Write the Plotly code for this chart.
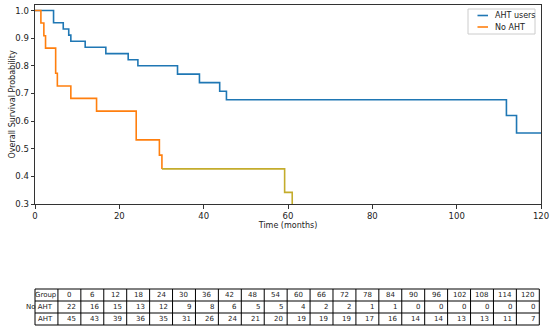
import plotly.graph_objects as go

# Kaplan-Meier step data
aht_time = [0, 4.4, 6.7, 8.0, 8.5, 11.9, 16.8, 22.1, 24.4, 33.8, 39.0, 43.8, 45.4, 111.8, 114.2, 120]
aht_surv = [1.0, 0.956, 0.933, 0.911, 0.889, 0.867, 0.844, 0.822, 0.800, 0.770, 0.739, 0.708, 0.677, 0.620, 0.557, 0.557]

noaht_time_a = [0, 1.4, 2.1, 2.5, 4.9, 5.3, 8.5, 14.6, 24.0, 29.5, 30.1]
noaht_surv_a = [1.0, 0.955, 0.909, 0.864, 0.773, 0.727, 0.682, 0.636, 0.532, 0.477, 0.427]
noaht_time_b = [30.1, 59.2, 61.0]
noaht_surv_b = [0.427, 0.342, 0.0]

# Number-at-risk table
risk_times = ["0", "6", "12", "18", "24", "30", "36", "42", "48", "54", "60",
              "66", "72", "78", "84", "90", "96", "102", "108", "114", "120"]
risk_noaht = [22, 16, 15, 13, 12, 9, 8, 6, 5, 5, 4, 2, 2, 1, 1, 0, 0, 0, 0, 0, 0]
risk_aht = [45, 43, 39, 36, 35, 31, 26, 24, 21, 20, 19, 19, 19, 17, 16, 14, 14, 13, 13, 11, 7]
group_labels = ["No AHT", "AHT"]
legend_labels = ["AHT users", "No AHT"]

BLUE = "#1f77b4"
ORANGE = "#ff7f0e"
OLIVE = "#c4ac2c"
FONT = "DejaVu Sans"
TXT = "#222222"

W, H = 550, 333
ML, MR, MT, MB = 35, 9, 5, 129
PW = W - ML - MR
PH = H - MT - MB


def px_x(p):
    return (p - ML) / PW


def px_y(p):
    return (H - MB - p) / PH


fig = go.Figure()
fig.add_trace(go.Scatter(x=aht_time, y=aht_surv, mode="lines",
                         line=dict(shape="hv", color=BLUE, width=1.6), name=legend_labels[0]))
fig.add_trace(go.Scatter(x=noaht_time_a, y=noaht_surv_a, mode="lines",
                         line=dict(shape="hv", color=ORANGE, width=1.6), name=legend_labels[1]))
fig.add_trace(go.Scatter(x=noaht_time_b, y=noaht_surv_b, mode="lines",
                         line=dict(shape="hv", color=OLIVE, width=1.6), name=legend_labels[1]))

shapes = []
annotations = []

# ---- custom legend (matplotlib style) ----
lx0, lx1, ly0, ly1 = 468, 535, 9, 34
shapes.append(dict(type="rect", xref="paper", yref="paper", x0=px_x(lx0), x1=px_x(lx1),
                   y0=px_y(ly1), y1=px_y(ly0), line=dict(color="#cccccc", width=1),
                   fillcolor="white", layer="above"))
for i, (lab, col) in enumerate(zip(legend_labels, [BLUE, ORANGE])):
    yy = 15.5 + i * 11.5
    shapes.append(dict(type="line", xref="paper", yref="paper", x0=px_x(477.5), x1=px_x(488),
                       y0=px_y(yy), y1=px_y(yy), line=dict(color=col, width=1.6), layer="above"))
    annotations.append(dict(text=lab, xref="paper", yref="paper", x=px_x(492.5), y=px_y(yy),
                            xanchor="left", yanchor="middle", showarrow=False,
                            font=dict(family=FONT, size=8, color=TXT)))

# ---- y axis title ----
annotations.append(dict(text="Overall Survival Probability", xref="paper", yref="paper",
                        x=px_x(12), y=0.5, xanchor="center", yanchor="middle", textangle=-90,
                        showarrow=False, font=dict(family=FONT, size=8, color=TXT)))

# ---- number-at-risk table ----
t_left, t_right = 35, 539.3
row_edges = [289, 301, 313, 325]
ncol = len(risk_times) + 1
cw = (t_right - t_left) / ncol
col_edges = [t_left + i * cw for i in range(ncol + 1)]
for ye in row_edges:
    shapes.append(dict(type="line", xref="paper", yref="paper", x0=px_x(t_left), x1=px_x(t_right),
                       y0=px_y(ye), y1=px_y(ye), line=dict(color="black", width=1)))
for xe in col_edges:
    shapes.append(dict(type="line", xref="paper", yref="paper", x0=px_x(xe), x1=px_x(xe),
                       y0=px_y(row_edges[0]), y1=px_y(row_edges[-1]), line=dict(color="black", width=1)))

header = ["Group"] + risk_times
rows = [[group_labels[0]] + [str(v) for v in risk_noaht],
        [group_labels[1]] + [str(v) for v in risk_aht]]
tf = dict(family=FONT, size=7, color=TXT)
for j, h in enumerate(header):
    cx = (col_edges[j] + col_edges[j + 1]) / 2
    cy = (row_edges[0] + row_edges[1]) / 2
    annotations.append(dict(text=h, xref="paper", yref="paper", x=px_x(cx), y=px_y(cy),
                            xanchor="center", yanchor="middle", showarrow=False, font=tf))
for r, row in enumerate(rows):
    cy = (row_edges[r + 1] + row_edges[r + 2]) / 2
    for j, v in enumerate(row):
        rx = col_edges[j + 1] - 2.5
        annotations.append(dict(text=v, xref="paper", yref="paper", x=px_x(rx), y=px_y(cy),
                                xanchor="right", yanchor="middle", showarrow=False, font=tf))

fig.update_layout(
    width=W, height=H,
    margin=dict(l=ML, r=MR, t=MT, b=MB),
    paper_bgcolor="white", plot_bgcolor="white",
    font=dict(family=FONT, size=8, color=TXT),
    showlegend=False,
    shapes=shapes,
    annotations=annotations,
    xaxis=dict(range=[0, 120], tickvals=[0, 20, 40, 60, 80, 100, 120], automargin=False,
               showline=True, linecolor="#333", linewidth=1, mirror=True,
               ticks="outside", ticklen=3.5, tickcolor="#333", showgrid=False, zeroline=False,
               title=dict(text="Time (months)", font=dict(size=8), standoff=1),
               tickfont=dict(size=8.5)),
    yaxis=dict(range=[0.3, 1.02], tickvals=[0.3, 0.4, 0.5, 0.6, 0.7, 0.8, 0.9, 1.0],
               tickformat=".1f", automargin=False,
               showline=True, linecolor="#333", linewidth=1, mirror=True,
               ticks="outside", ticklen=3.5, tickcolor="#333", showgrid=False, zeroline=False,
               tickfont=dict(size=8.5)),
)

fig.write_html("out.html", config={"displayModeBar": False},
               post_script="document.body.style.margin='0';document.body.style.padding='0';")
